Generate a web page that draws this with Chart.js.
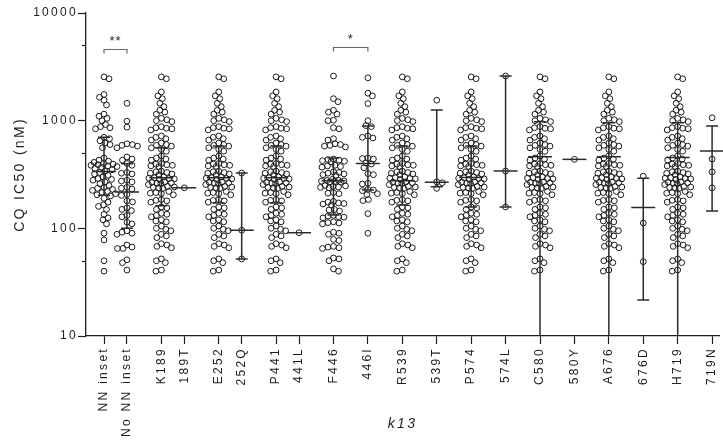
<!DOCTYPE html>
<html>
<head>
<meta charset="utf-8">
<script src="https://cdn.jsdelivr.net/npm/chart.js@4.4.0/dist/chart.umd.min.js"></script>
<style>
html,body{margin:0;padding:0;background:#fff;}
#wrap{width:723px;height:441px;position:relative;}
</style>
</head>
<body>
<div id="wrap"><canvas id="c" width="723" height="441"></canvas></div>
<script>
// ---------------- DATA ----------------
const categories = ['NN inset','No NN inset','K189','189T','E252','252Q','P441','441L','F446','446I',
                    'R539','539T','P574','574L','C580','580Y','A676','676D','H719','719N'];

const nnInset = [2450,2550,1750,1650,1550,1400,1150,1100,1050,1000,920,880,860,840,700,680,650,620,600,560,
                 450,430,420,410,400,395,390,385,380,375,370,360,350,340,330,320,310,300,290,285,280,270,260,
                 250,240,235,230,225,220,215,210,205,200,190,175,165,160,150,135,125,120,110,90,78,50,40];

const noNnInset = [1450,990,870,610,600,590,580,560,460,440,430,400,385,330,325,320,280,275,270,240,236,232,
                   206,202,180,176,155,150,146,132,128,114,110,95,92,90,88,70,67,65,65,51,48,41];

// all isolates carrying the wild-type residue at a given k13 position
const wildType = [2450,2550,1850,1700,1600,1450,1350,1250,1200,1150,1050,1020,1000,980,880,860,850,840,820,
                  720,700,680,660,620,600,590,580,560,540,520,470,450,440,430,400,395,390,385,380,375,
                  340,335,330,325,320,315,300,295,292,290,288,285,270,268,265,262,260,255,245,242,240,238,235,
                  220,215,212,210,205,185,182,180,175,158,155,150,138,135,132,128,120,117,115,105,100,98,95,
                  88,85,82,72,70,68,66,52,50,48,41,40];

const f446 = [2600,1600,1500,1250,1200,1150,1010,1000,860,840,680,660,610,600,590,580,570,440,435,430,425,420,415,
              385,380,375,370,335,330,325,320,315,310,285,280,278,276,274,272,270,268,250,248,245,242,240,238,
              215,212,210,178,175,172,170,168,165,150,148,145,132,130,128,127,125,115,113,112,110,92,90,88,
              79,77,68,67,66,65,53,52,50,42,40];

const i446 = [2500,1800,1700,1440,1000,900,880,720,700,690,450,445,440,405,395,365,322,315,262,258,230,227,224,
              210,206,185,181,137,90];

const t189 = [238];
const q252 = [326,96,52];
const l441 = [91];
const t539 = [1550,270,265,235];
const l574 = [2600,340,158];
const y580 = [437];
const d676 = [305,112,49];
const n719 = [1064,440,335,238];

const groupValues = [nnInset, noNnInset, wildType, t189, wildType, q252, wildType, l441, f446, i446,
                     wildType, t539, wildType, l574, wildType, y580, wildType, d676, wildType, n719];

// centre line and whisker ends
const centerValues = [338,217,295,238,295,96,295,91,276,401,276,268,297,340,461,437,461,156,455,522];
const lowValues    = [203,100,162,238,172,52,172,91,133,227,165,243,158,158,10,437,10,21.6,10,145];
const highValues   = [700,398,560,238,581,326,581,91,450,890,581,1253,581,2600,977,437,956,292,956,890];

const yTickValues = [10,100,1000,10000];
const yMinorTicks = [50,500,5000];
const significance = [{a:0,b:1,label:'**',level:4600},{a:8,b:9,label:'*',level:4850}];

// ---------------- LAYOUT ----------------
const slotPositions = [0,2,5,7,10,12,15,17,20,23,26,29,32,35,38,41,44,47,50,53];
const INK = '#1e1e1e';
Chart.defaults.font.family = "'Liberation Sans', Arial, sans-serif";
Chart.defaults.color = INK;

const points = [];
groupValues.forEach((arr, g) => arr.forEach(v => points.push({x: slotPositions[g], y: v, g})));

const letterSpacingPlugin = {
  id: 'ls',
  beforeLayout(chart){ chart.ctx.letterSpacing = '2.3px'; },
  beforeDraw(chart){ chart.ctx.letterSpacing = '2.3px'; }
};

const overlayPlugin = {
  id: 'overlay',
  afterDatasetsDraw(chart){
    const {ctx, scales:{x, y}, chartArea} = chart;
    ctx.save();
    ctx.strokeStyle = '#2a2a2a';
    ctx.lineWidth = 1.5;
    categories.forEach((c, i) => {
      const px = x.getPixelForValue(slotPositions[i]);
      const pc = y.getPixelForValue(centerValues[i]);
      const lo = Math.min(y.getPixelForValue(lowValues[i]), chartArea.bottom);
      const hi = y.getPixelForValue(highValues[i]);
      ctx.beginPath();
      ctx.moveTo(px - 12, pc); ctx.lineTo(px + 12, pc);
      if (highValues[i] !== lowValues[i]) {
        ctx.moveTo(px, hi); ctx.lineTo(px, lo);
        ctx.moveTo(px - 6, hi); ctx.lineTo(px + 6, hi);
        if (lowValues[i] > 10) { ctx.moveTo(px - 6, lo); ctx.lineTo(px + 6, lo); }
      }
      ctx.stroke();
    });
    ctx.strokeStyle = INK; ctx.lineWidth = 1.2;
    yMinorTicks.forEach(v => {
      const py = Math.round(y.getPixelForValue(v)) + 0.5;
      ctx.beginPath(); ctx.moveTo(chartArea.left - 4, py); ctx.lineTo(chartArea.left, py); ctx.stroke();
    });
    significance.forEach(s => {
      const xa = x.getPixelForValue(slotPositions[s.a]);
      const xb = x.getPixelForValue(slotPositions[s.b]);
      const py = Math.round(y.getPixelForValue(s.level)) + 0.5;
      ctx.strokeStyle = '#666'; ctx.lineWidth = 1.2;
      ctx.beginPath();
      ctx.moveTo(xa, py + 4); ctx.lineTo(xa, py); ctx.lineTo(xb, py); ctx.lineTo(xb, py + 4);
      ctx.stroke();
      ctx.fillStyle = INK;
      ctx.font = "13px 'Liberation Sans', Arial, sans-serif";
      ctx.letterSpacing = '1px';
      ctx.textAlign = 'center'; ctx.textBaseline = 'middle';
      ctx.fillText(s.label, (xa + xb) / 2, py - 8);
    });
    ctx.restore();
  }
};

const ctx = document.getElementById('c').getContext('2d');
const chart = new Chart(ctx, {
  type: 'scatter',
  data: { datasets: [{
    data: points,
    pointRadius: 2.9,
    pointHoverRadius: 2.9,
    pointBorderWidth: 1,
    pointBorderColor: '#1a1a1a',
    pointBackgroundColor: 'rgba(255,255,255,0)',
    showLine: false
  }]},
  options: {
    responsive: false,
    animation: false,
    events: [],
    layout: { padding: { top: 13, right: 0, left: 0, bottom: 0 } },
    plugins: { legend: { display: false }, tooltip: { enabled: false } },
    scales: {
      x: {
        type: 'linear',
        min: -1.57, max: 53.61,
        afterBuildTicks: s => { s.ticks = slotPositions.map(v => ({value: v})); },
        afterFit: s => { s.height = 105; s.paddingLeft = 0; s.paddingRight = 0; },
        ticks: {
          autoSkip: false, maxRotation: 90, minRotation: 90, padding: 3,
          font: { size: 12 }, color: INK,
          callback: (v, i) => categories[i]
        },
        grid: { display: true, drawOnChartArea: false, drawTicks: true, tickLength: 8, tickColor: INK, tickWidth: 1.2 },
        border: { display: true, color: INK, width: 1.3 },
        title: { display: true, text: 'k13', color: INK, font: { size: 14, style: 'italic' }, padding: { top: 0, bottom: 8 } }
      },
      y: {
        type: 'logarithmic',
        min: 10, max: 10000,
        afterBuildTicks: s => { s.ticks = yTickValues.map(v => ({value: v, major: true})); },
        afterFit: s => { s.width = 86; },
        ticks: { padding: 0, font: { size: 12 }, color: INK, callback: v => String(v) },
        grid: { display: true, drawOnChartArea: false, drawTicks: true, tickLength: 8, tickColor: INK, tickWidth: 1.2 },
        border: { display: true, color: INK, width: 1.3 },
        title: { display: true, text: 'CQ IC50 (nM)', color: INK, font: { size: 14 }, padding: { top: 12, bottom: 0 } }
      }
    }
  },
  plugins: [letterSpacingPlugin, overlayPlugin]
});

// beeswarm arrangement of the dots around each column centre (computed with the chart's scales)
(function swarm(){
  const xs = chart.scales.x, ys = chart.scales.y;
  const pxPerUnit = xs.getPixelForValue(1) - xs.getPixelForValue(0);
  const minD = 5.2, maxHalf = 13;
  groupValues.forEach((arr, g) => {
    const idx = [];
    points.forEach((p, k) => { if (p.g === g) idx.push(k); });
    const ypx = idx.map(k => ys.getPixelForValue(points[k].y));
    const order = ypx.map((v, i) => i).sort((a, b) => ypx[a] - ypx[b]);
    const placed = [];
    let flip = 1;
    order.forEach(i => {
      const yy = ypx[i];
      let chosen = null, bestC = 0, bestD = -1;
      for (let mag = 0; mag <= maxHalf && chosen === null; mag += 0.5) {
        const cands = mag === 0 ? [0] : [flip * mag, -flip * mag];
        for (const c of cands) {
          let dmin = Infinity;
          for (const p of placed) { const d = Math.hypot(p.x - c, p.y - yy); if (d < dmin) dmin = d; }
          if (dmin >= minD) { chosen = c; break; }
          if (dmin > bestD) { bestD = dmin; bestC = c; }
        }
      }
      if (chosen === null) chosen = bestC;
      if (chosen !== 0) flip = -flip;
      placed.push({x: chosen, y: yy});
      points[idx[i]].x = slotPositions[g] + chosen / pxPerUnit;
    });
  });
  chart.update('none');
})();
</script>
</body>
</html>
